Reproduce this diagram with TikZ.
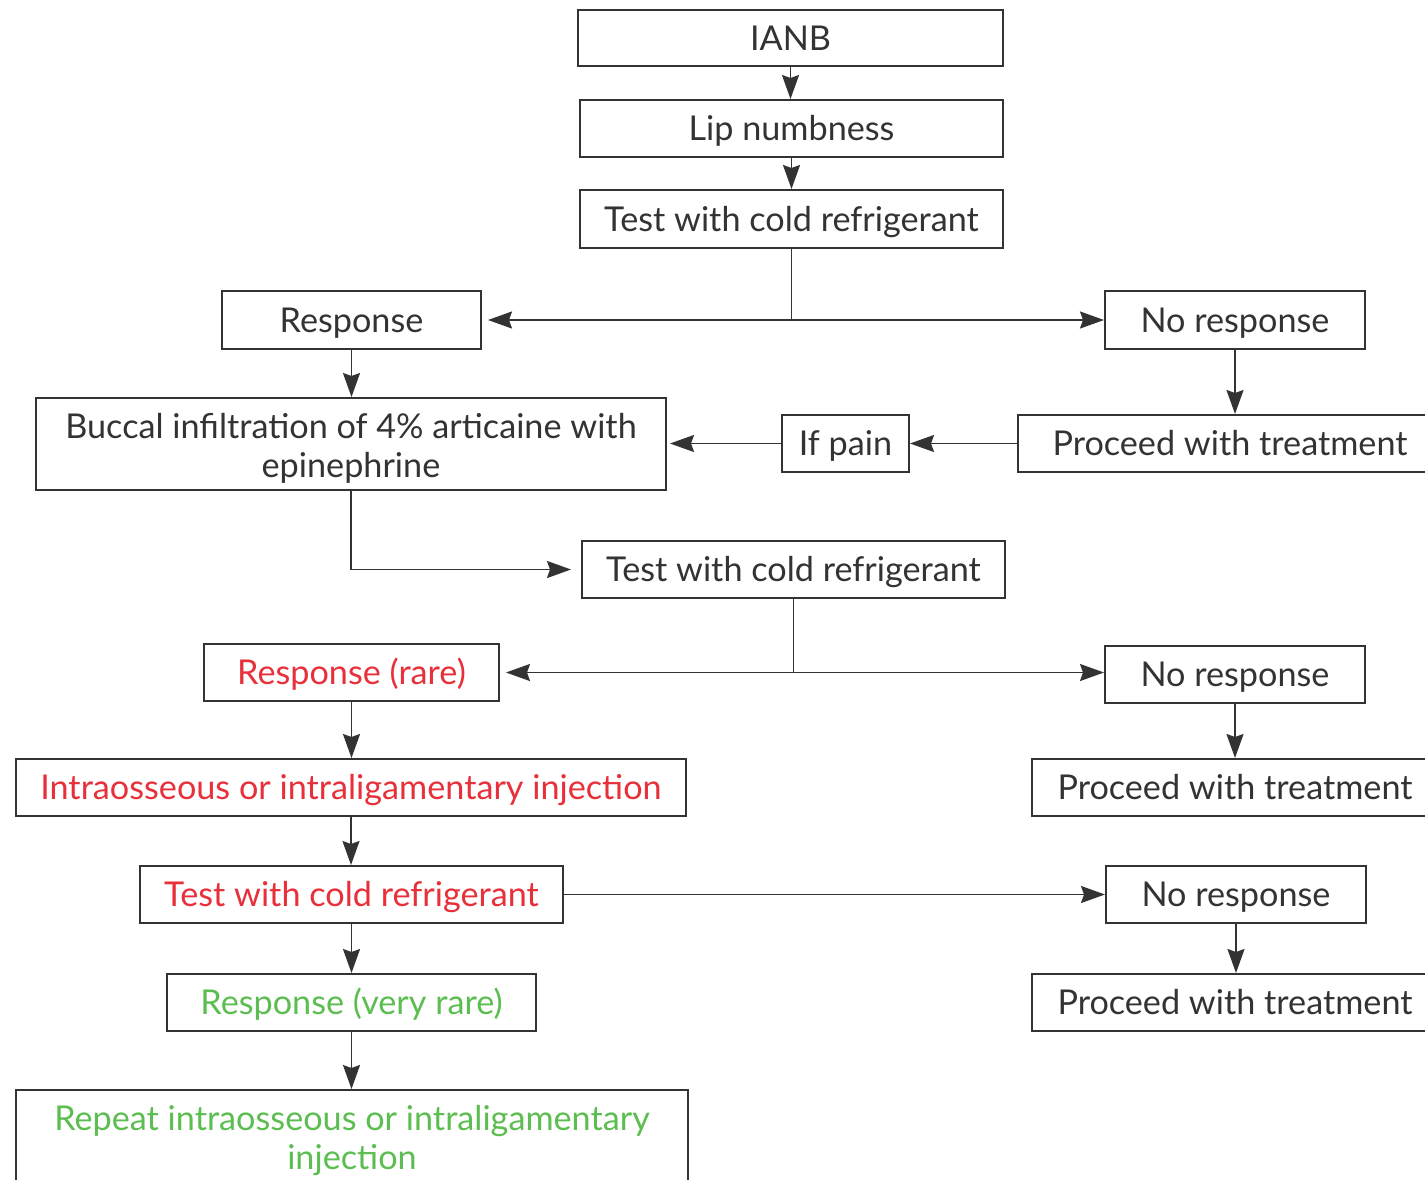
\documentclass[tikz,border=0pt]{standalone}
\usepackage{fontspec}
\setmainfont{Lato}
\usetikzlibrary{arrows.meta}
\definecolor{ink}{HTML}{333333}
\definecolor{alert}{HTML}{E8303A}
\definecolor{okgreen}{HTML}{5CBE50}

\begin{document}
\begin{tikzpicture}[x=0.5pt,y=-0.5pt,
  box/.style={draw=ink,line width=1pt,inner sep=0pt,align=center,
    font=\fontsize{17.1}{19.5}\selectfont,text=ink},
  one/.style={text height=14pt,text depth=2pt},
  flow/.style={draw=ink,line width=0.95pt,-{Stealth[length=12pt,width=8.5pt,inset=1.5pt]}},
  link/.style={draw=ink,line width=0.95pt}]
\useasboundingbox (0,0) rectangle (1425,1179);
\clip (0,0) rectangle (1425,1179);
\fill[white] (0,0) rectangle (1425,1179);

% boxes
\node[box,one,minimum width=212.5pt,minimum height=28pt] (ianb) at (790.5,38) {IANB};
\node[box,one,minimum width=211.5pt,minimum height=28.5pt] (lip) at (791.5,128.5) {Lip numbness};
\node[box,one,minimum width=211.5pt,minimum height=29pt] (test1) at (791.5,219) {Test with cold refrigerant};
\node[box,one,minimum width=129.5pt,minimum height=29pt] (resp1) at (351.5,320) {Response};
\node[box,one,minimum width=130pt,minimum height=29pt] (nores1) at (1235,320) {No response};
\node[box,minimum width=315pt,minimum height=46pt] (buccal) at (351,444) {\rule{0pt}{16.5pt}Buccal infiltration of 4\% articaine with\\epinephrine};
\node[box,one,minimum width=63.5pt,minimum height=28.5pt] (ifpain) at (845.5,443.5) {If pain};
\node[box,one,minimum width=212pt,minimum height=28.5pt] (proc1) at (1230,443.5) {Proceed with treatment};
\node[box,one,minimum width=211.5pt,minimum height=28.5pt] (test2) at (793.5,569.5) {Test with cold refrigerant};
\node[box,one,text=alert,minimum width=147.5pt,minimum height=28.5pt] (rare) at (351.5,672.5) {Response (rare)};
\node[box,one,minimum width=130pt,minimum height=28.5pt] (nores2) at (1235,674.5) {No response};
\node[box,one,text=alert,minimum width=335pt,minimum height=28.5pt] (intra) at (351,787.5) {Intraosseous or intraligamentary injection};
\node[box,one,minimum width=203pt,minimum height=28.5pt] (proc2) at (1235,787.5) {Proceed with treatment};
\node[box,one,text=alert,minimum width=211.5pt,minimum height=28.5pt] (test3) at (351.5,894.5) {Test with cold refrigerant};
\node[box,one,minimum width=130pt,minimum height=28.5pt] (nores3) at (1236,894.5) {No response};
\node[box,one,text=okgreen,minimum width=184.5pt,minimum height=28.5pt] (vrare) at (351.5,1002.5) {Response (very rare)};
\node[box,one,minimum width=203pt,minimum height=28.5pt] (proc3) at (1235,1002.5) {Proceed with treatment};
\node[box,text=okgreen,minimum width=336pt,minimum height=51pt] (repeat) at (352,1141) {Repeat intraosseous or intraligamentary\\injection};

% connectors
\draw[flow] (ianb.south) -- (ianb.south |- lip.north);
\draw[flow] (lip.south) -- (lip.south |- test1.north);
\coordinate (split1) at (test1.south |- resp1.east);
\draw[link] (test1.south) -- (split1);
\draw[flow,shorten >=3pt] (split1) -- (resp1.east);
\draw[flow] (split1) -- (nores1.west);
\draw[flow] (resp1.south) -- (resp1.south |- buccal.north);
\draw[flow] (nores1.south) -- (nores1.south |- proc1.north);
\draw[flow] (proc1.west) -- (ifpain.east);
\draw[flow,shorten >=1.5pt] (ifpain.west) -- (ifpain.west -| buccal.east);
\draw[flow,shorten >=5pt] (buccal.south) |- (test2.west);
\coordinate (split2) at (test2.south |- rare.east);
\draw[link] (test2.south) -- (split2);
\draw[flow,shorten >=3pt] (split2) -- (rare.east);
\draw[flow] (split2) -- (split2 -| nores2.west);
\draw[flow] (rare.south) -- (rare.south |- intra.north);
\draw[flow] (nores2.south) -- (nores2.south |- proc2.north);
\draw[flow] (intra.south) -- (intra.south |- test3.north);
\draw[flow] (test3.east) -- (nores3.west);
\draw[flow] (nores3.south) -- (nores3.south |- proc3.north);
\draw[flow] (test3.south) -- (test3.south |- vrare.north);
\draw[flow] (vrare.south) -- (vrare.south |- repeat.north);
\end{tikzpicture}
\end{document}
